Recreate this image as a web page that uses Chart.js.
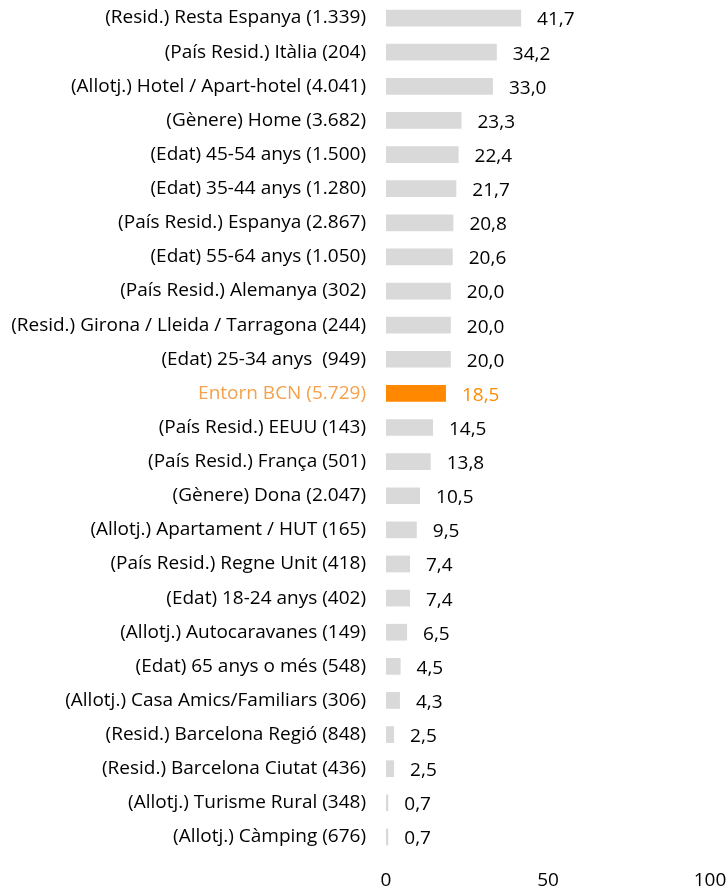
<!DOCTYPE html>
<html>
  <head>
    <meta charset="utf-8">
    <title>Entorn BCN</title>
    <script src="https://cdn.jsdelivr.net/npm/chart.js"></script>
    <style>
      html, body { margin: 0; padding: 0; background: #fff; }
      #wrap { width: 728px; height: 891px; position: relative; }
    </style>
  </head>
  <body>
    <div id="wrap"><canvas id="myChart"></canvas></div>
    <script>
      // categories (top to bottom) and values
      const categories = [
        '(Resid.) Resta Espanya (1.339)',
        '(País Resid.) Itàlia (204)',
        '(Allotj.) Hotel / Apart-hotel (4.041)',
        '(Gènere) Home (3.682)',
        '(Edat) 45-54 anys (1.500)',
        '(Edat) 35-44 anys (1.280)',
        '(País Resid.) Espanya (2.867)',
        '(Edat) 55-64 anys (1.050)',
        '(País Resid.) Alemanya (302)',
        '(Resid.) Girona / Lleida / Tarragona (244)',
        '(Edat) 25-34 anys  (949)',
        'Entorn BCN (5.729)',
        '(País Resid.) EEUU (143)',
        '(País Resid.) França (501)',
        '(Gènere) Dona (2.047)',
        '(Allotj.) Apartament / HUT (165)',
        '(País Resid.) Regne Unit (418)',
        '(Edat) 18-24 anys (402)',
        '(Allotj.) Autocaravanes (149)',
        '(Edat) 65 anys o més (548)',
        '(Allotj.) Casa Amics/Familiars (306)',
        '(Resid.) Barcelona Regió (848)',
        '(Resid.) Barcelona Ciutat (436)',
        '(Allotj.) Turisme Rural (348)',
        '(Allotj.) Càmping (676)'
      ];
      const values = [41.7, 34.2, 33.0, 23.3, 22.4, 21.7, 20.8, 20.6, 20.0, 20.0, 20.0, 18.5,
                      14.5, 13.8, 10.5, 9.5, 7.4, 7.4, 6.5, 4.5, 4.3, 2.5, 2.5, 0.7, 0.7];
      const highlight = 'Entorn BCN (5.729)';
      const xTicks = [0, 50, 100];

      const FONT = '"Open Sans"';
      const isHi = (i) => categories[i] === highlight;

      // values written after the end of each bar
      const valueLabels = {
        id: 'valueLabels',
        afterDatasetsDraw(chart) {
          const ctx = chart.ctx;
          const meta = chart.getDatasetMeta(0);
          ctx.save();
          ctx.font = '19px ' + FONT;
          ctx.textBaseline = 'middle';
          ctx.textAlign = 'left';
          meta.data.forEach((bar, i) => {
            ctx.fillStyle = isHi(i) ? '#ff8c00' : '#000';
            ctx.fillText(values[i].toFixed(1).replace('.', ','), bar.x + 16, bar.y + 2);
          });
          ctx.restore();
        }
      };

      new Chart(document.getElementById('myChart'), {
        type: 'bar',
        data: {
          labels: categories,
          datasets: [{
            data: values,
            backgroundColor: categories.map((c, i) => isHi(i) ? '#ff8800' : '#d9d9d9'),
            barPercentage: 0.49,
            categoryPercentage: 1
          }]
        },
        options: {
          indexAxis: 'y',
          responsive: true,
          maintainAspectRatio: false,
          animation: false,
          layout: { padding: { top: 1, right: 18, left: 0, bottom: 0 } },
          plugins: { legend: { display: false }, tooltip: { enabled: false } },
          scales: {
            x: {
              min: 0,
              max: 100,
              afterBuildTicks: (axis) => { axis.ticks = xTicks.map(v => ({ value: v })); },
              afterFit: (axis) => { axis.height = 37; axis.paddingLeft = 0; axis.paddingRight = 0; },
              grid: { display: false, drawTicks: false },
              border: { display: false },
              ticks: { font: { family: FONT, size: 19 }, color: '#000', padding: 15, maxRotation: 0 }
            },
            y: {
              afterFit: (axis) => { axis.width = 386; axis.paddingTop = 0; axis.paddingBottom = 0; },
              grid: { display: false },
              border: { display: false },
              ticks: {
                font: { family: FONT, size: 19 },
                color: (c) => isHi(c.index) ? '#f5a04a' : '#000',
                padding: 12,
                autoSkip: false
              }
            }
          }
        },
        plugins: [valueLabels]
      });
    </script>
  </body>
</html>
